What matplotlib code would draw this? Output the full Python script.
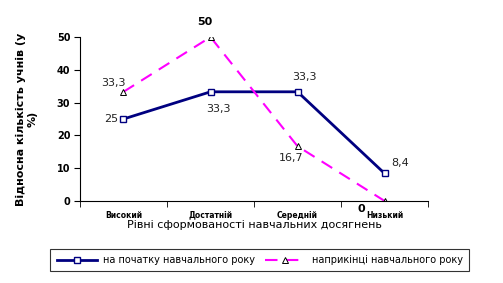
import numpy as np
import matplotlib.pyplot as plt

categories = ['Високий', 'Достатній', 'Середній', 'Низький']
start_year = [25, 33.3, 33.3, 8.4]
end_year = [33.3, 50, 16.7, 0]
start_labels = ['25', '33,3', '33,3', '8,4']
end_labels = ['33,3', '50', '16,7', '0']

fig = plt.figure(figsize=(5.03, 2.83), dpi=100)
ax = fig.add_axes([0.159, 0.290, 0.692, 0.579])

x = np.arange(len(categories))
l1, = ax.plot(x, start_year, color='#000080', lw=2, marker='s', ms=4.5,
              mfc='white', mec='#000080', mew=1,
              label='на початку навчального року')
l2, = ax.plot(x, end_year, color='#FF00FF', lw=1.5, ls=(0, (6, 4)), marker='^', ms=5,
              mfc='white', mec='black', mew=0.7,
              label='наприкінці навчального року')

# data labels: (dx, dy, ha, va) in points
offs1 = [(-4, 0, 'right', 'center'), (-3, -9, 'left', 'top'),
         (-4, 7, 'left', 'bottom'), (5, 4, 'left', 'bottom')]
offs2 = [(-7, 3, 'center', 'bottom'), (-4, 7, 'center', 'bottom'),
         (4, -5, 'right', 'top'), (-14, -2, 'right', 'top')]
for i in range(len(categories)):
    dx, dy, ha, va = offs1[i]
    ax.annotate(start_labels[i], (x[i], start_year[i]), xytext=(dx, dy),
                textcoords='offset points', ha=ha, va=va, fontsize=8, color='#222222')
    dx, dy, ha, va = offs2[i]
    bold = end_labels[i] in ('50', '0')
    ax.annotate(end_labels[i], (x[i], end_year[i]), xytext=(dx, dy),
                textcoords='offset points', ha=ha, va=va,
                fontsize=8, color='black' if bold else '#222222',
                fontweight='bold' if bold else 'normal', annotation_clip=False)

ax.set_xlim(-0.5, 3.5)
ax.set_ylim(0, 50)
ax.set_yticks(range(0, 51, 10))
ax.set_yticklabels([str(v) for v in range(0, 51, 10)], fontsize=7, fontweight='bold')
ax.set_xticks(x)
ax.set_xticklabels(categories, fontsize=5.5, fontweight='bold')
ax.set_xticks(np.arange(-0.5, 4, 1), minor=True)
ax.tick_params(axis='x', which='major', length=0, pad=7)
ax.tick_params(axis='x', which='minor', length=4, direction='out')
ax.tick_params(axis='y', length=4, direction='out', pad=3)
for s in ['top', 'right']:
    ax.spines[s].set_visible(False)
ax.spines['left'].set_linewidth(0.8)
ax.spines['bottom'].set_linewidth(0.8)

ax.set_xlabel('Рівні сформованості навчальних досягнень', fontsize=8, labelpad=0)
ax.set_ylabel('Відносна кількість учнів (у\n%)', fontsize=8, fontweight='bold', labelpad=14)

leg = fig.legend(handles=[l1, l2], loc='center', ncol=2, fontsize=7, frameon=True,
                 fancybox=False, edgecolor='black', handlelength=4.2,
                 columnspacing=1.0, handletextpad=0.6, borderpad=0.65)
leg.set_bbox_to_anchor((0.516, 1 - 260 / 283), transform=fig.transFigure)
leg.get_frame().set_linewidth(0.8)

fig.savefig('out.png', dpi=100)
